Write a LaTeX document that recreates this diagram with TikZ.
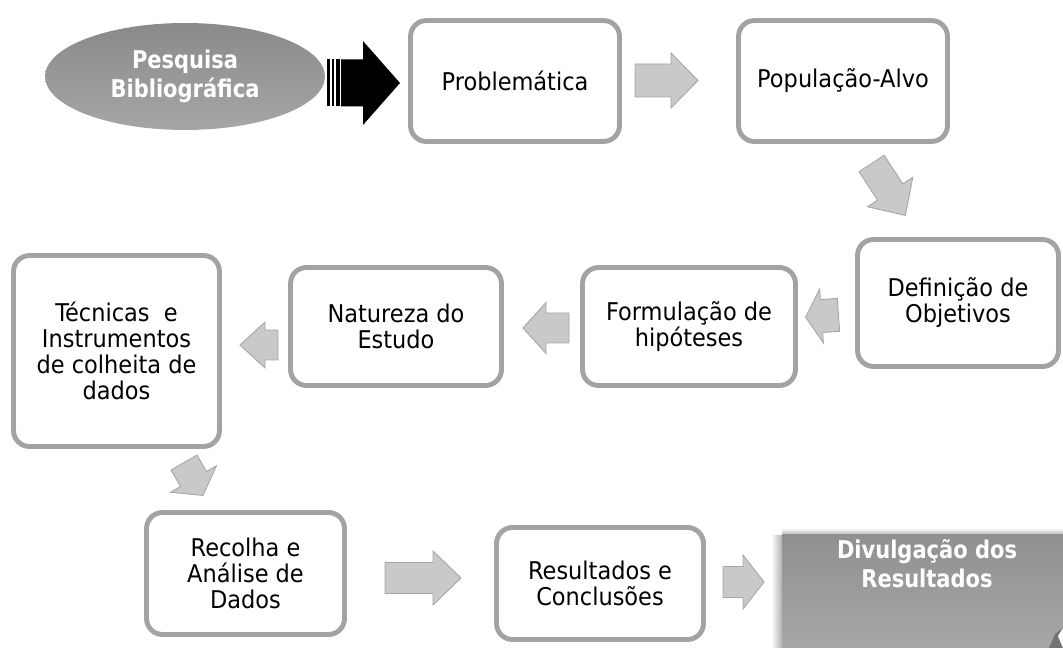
\documentclass[tikz,border=0pt]{standalone}
\usepackage{fontspec}
\setmainfont{DejaVu Sans}[FakeStretch=0.92]
\newfontfamily\bfam{DejaVu Sans}[FakeStretch=0.86]
\usetikzlibrary{shapes.geometric}
\definecolor{bordergray}{HTML}{A3A3A3}
\definecolor{arrowfill}{HTML}{C9C9C9}
\definecolor{arrowline}{HTML}{A6A6A6}
\definecolor{ellgrayA}{HTML}{8A8A8A}
\definecolor{ellgrayB}{HTML}{A6A6A6}
\definecolor{divgrayA}{HTML}{909090}
\definecolor{divgrayB}{HTML}{ABABAB}
\tikzset{
  box/.style={draw=bordergray, line width=2.8pt, rounded corners=0.32cm, fill=white,
    align=center, inner sep=0pt, font=\fontsize{13.9}{14.8}\selectfont},
  whitebold/.style={text=white, align=center, inner sep=0pt,
    font=\bfam\bfseries\fontsize{13.9}{16.5}\selectfont},
  arrowstyle/.style={fill=arrowfill, draw=arrowline, line width=0.5pt, line join=miter},
  blackarrow/.style={fill=black, draw=none},
  pics/barrow/.style args={#1/#2/#3/#4/#5}{code={
    \path[#5] ({-#1/2},{-#3}) -- ({-#1/2+#2},{-#3}) -- ({-#1/2+#2},{-#4}) -- ({#1/2},0)
      -- ({-#1/2+#2},{#4}) -- ({-#1/2+#2},{#3}) -- ({-#1/2},{#3}) -- cycle;
  }}
}
\begin{document}
\begin{tikzpicture}[x=0.02cm,y=-0.02cm]
\useasboundingbox (0,0) rectangle (1063,648);

% start ellipse
\node[ellipse, minimum width=5.6cm, minimum height=2.14cm, top color=ellgrayA,
  bottom color=ellgrayB, whitebold] (pb) at (185,76.5) {Pesquisa\\Bibliográfica};

% black striped arrow
\fill[black] (327,59.5) rectangle (329.5,106.5);
\fill[black] (331.5,59.5) rectangle (334,106.5);
\fill[black] (336,59.5) rectangle (339.5,106.5);
\pic at (370.5,83) {barrow=59/22/23.5/42/blackarrow};

% boxes
\node[box, minimum width=4.18cm, minimum height=2.42cm] (prob) at (515,81) {Problemática};
\node[box, minimum width=4.18cm, minimum height=2.42cm] (pop) at (843,81) {População-Alvo};
\node[box, minimum width=4.02cm, minimum height=2.54cm] (def) at (958,303) {Definição de\\Objetivos};
\node[box, minimum width=4.26cm, minimum height=2.36cm] (form) at (689,326.5) {Formulação de\\hipóteses};
\node[box, minimum width=4.22cm, minimum height=2.36cm] (nat) at (396,326.5) {Natureza do\\Estudo};
\node[box, minimum width=4.12cm, minimum height=3.82cm] (tec) at (116.5,351) {Técnicas~\ e\\Instrumentos\\de colheita de\\dados};
\node[box, minimum width=3.96cm, minimum height=2.44cm] (rec) at (245.5,573.5) {Recolha e\\Análise de\\Dados};
\node[box, minimum width=4.14cm, minimum height=2.24cm] (res) at (600,583.5) {Resultados e\\Conclusões};

% final highlighted box with soft shadow
\shade[left color=white, right color=black!30] (771,536) rectangle (782,660);
\shade[top color=white, bottom color=black!25] (782,528) rectangle (1063,534);
\node[top color=divgrayA, bottom color=divgrayB, minimum width=6.36cm, minimum height=2.72cm,
  inner sep=0pt] (div) at (941,602) {};
\node[whitebold] (divtxt) at (927,564) {Divulgação dos\\Resultados};
\fill[black!55] (1049,648) -- (1055,634) -- (1063,628) -- (1063,648) -- cycle;
\fill[white] (1063,628) -- (1058,636) -- (1063,648) -- cycle;

% grey block arrows
\pic at (666.5,80.5) {barrow=63/36/16.5/27.5/arrowstyle};
\pic[rotate=-57] at (888.5,189.5) {barrow=62/34/15/27/arrowstyle};
\pic[rotate=184] at (822,316) {barrow=33/17/16.5/27/arrowstyle};
\pic[rotate=180] at (546,328) {barrow=46/23/15/25.5/arrowstyle};
\pic[rotate=180] at (259,345) {barrow=38/13/15/23/arrowstyle};
\pic[rotate=-60] at (193.5,479) {barrow=38/19/15/26.5/arrowstyle};
\pic at (423,578) {barrow=76/48/15.5/27/arrowstyle};
\pic at (743.5,582) {barrow=41/20/15.5/27/arrowstyle};
\end{tikzpicture}
\end{document}
